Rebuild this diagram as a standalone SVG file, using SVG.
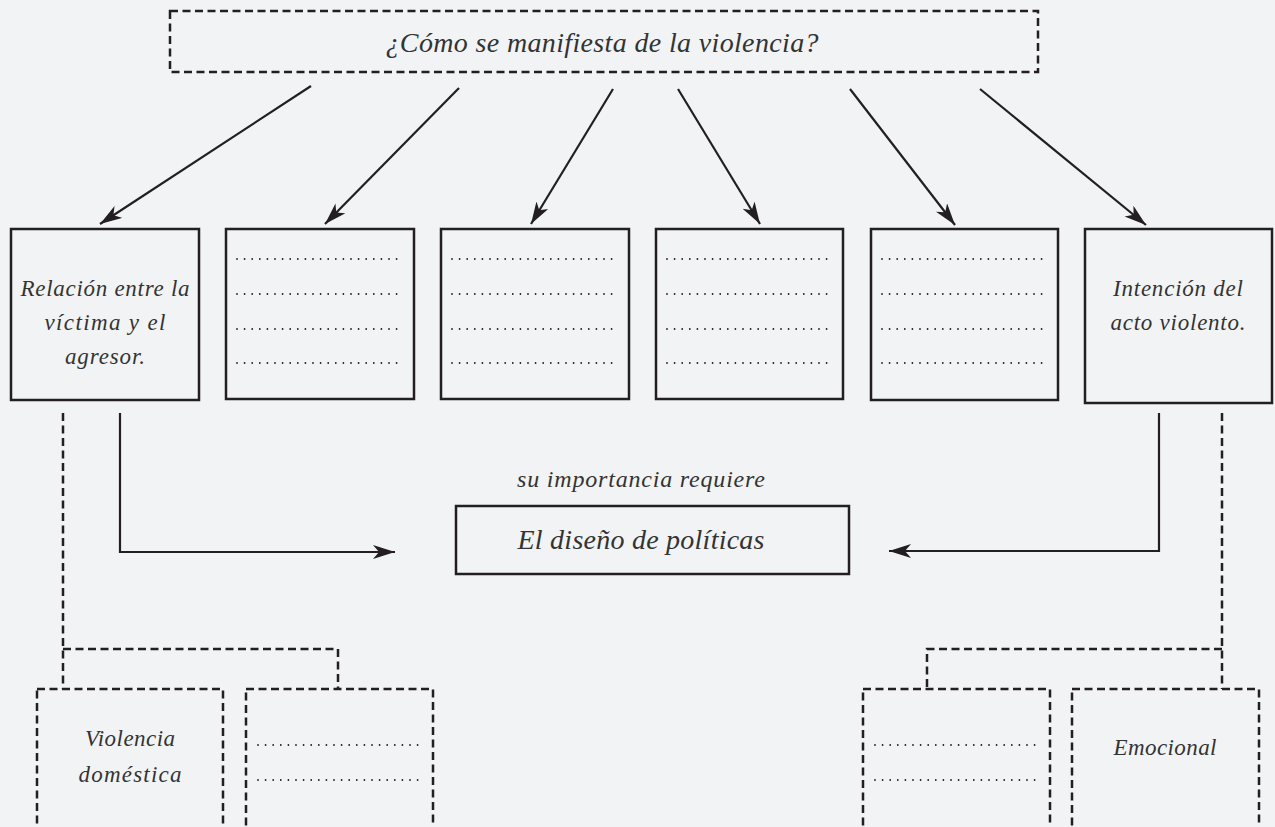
<svg xmlns="http://www.w3.org/2000/svg" width="1275" height="827" viewBox="0 0 1275 827">
<defs>
<marker id="ah" markerUnits="userSpaceOnUse" markerWidth="24" markerHeight="16" refX="22" refY="7" orient="auto">
<path d="M0,0 L22,7 L0,14 L6,7 Z" fill="#231f20"/>
</marker>
<style>
.bg{fill:#f2f3f5}
.box{fill:none;stroke:#231f20;stroke-width:2.5}
.dbox{fill:none;stroke:#231f20;stroke-width:2.5;stroke-dasharray:8 4.5}
.con{fill:none;stroke:#231f20;stroke-width:2.2}
.dcon{fill:none;stroke:#231f20;stroke-width:2.5;stroke-dasharray:8 4.5}
.dots{stroke:#231f20;stroke-width:1.8;stroke-linecap:round;stroke-dasharray:0 7.6}
text{font-family:"Liberation Serif","DejaVu Serif",serif;font-style:italic;fill:#333;text-anchor:middle}
.t23{font-size:23px}
.t28{font-size:28px}
</style>
</defs>
<rect class="bg" x="0" y="0" width="1275" height="827"/>

<g id="question">
<rect class="dbox" x="170" y="11" width="868" height="61"/>
<text class="t28" x="602" y="52" textLength="433" lengthAdjust="spacing">¿Cómo se manifiesta de la violencia?</text>
</g>

<g id="n1">
<rect class="box" x="11" y="229" width="188" height="171"/>
<text class="t23" x="105" y="296" textLength="169" lengthAdjust="spacing">Relación entre la</text>
<text class="t23" x="105" y="330" textLength="121" lengthAdjust="spacing">víctima y el</text>
<text class="t23" x="105" y="364" textLength="80" lengthAdjust="spacing">agresor.</text>
</g>
<g id="n2">
<rect class="box" x="226" y="229" width="188" height="170"/>
<line class="dots" x1="237" y1="259" x2="403" y2="259"/>
<line class="dots" x1="237" y1="294" x2="403" y2="294"/>
<line class="dots" x1="237" y1="329" x2="403" y2="329"/>
<line class="dots" x1="237" y1="363" x2="403" y2="363"/>
</g>
<g id="n3">
<rect class="box" x="441" y="229" width="188" height="170"/>
<line class="dots" x1="452" y1="259" x2="618" y2="259"/>
<line class="dots" x1="452" y1="294" x2="618" y2="294"/>
<line class="dots" x1="452" y1="329" x2="618" y2="329"/>
<line class="dots" x1="452" y1="363" x2="618" y2="363"/>
</g>
<g id="n4">
<rect class="box" x="656" y="229" width="187" height="170"/>
<line class="dots" x1="667" y1="259" x2="833" y2="259"/>
<line class="dots" x1="667" y1="294" x2="833" y2="294"/>
<line class="dots" x1="667" y1="329" x2="833" y2="329"/>
<line class="dots" x1="667" y1="363" x2="833" y2="363"/>
</g>
<g id="n5">
<rect class="box" x="871" y="229" width="187" height="171"/>
<line class="dots" x1="882" y1="259" x2="1048" y2="259"/>
<line class="dots" x1="882" y1="294" x2="1048" y2="294"/>
<line class="dots" x1="882" y1="329" x2="1048" y2="329"/>
<line class="dots" x1="882" y1="363" x2="1048" y2="363"/>
</g>
<g id="n6">
<rect class="box" x="1085" y="229" width="187" height="174"/>
<text class="t23" x="1178" y="296" textLength="130" lengthAdjust="spacing">Intención del</text>
<text class="t23" x="1178" y="330" textLength="135" lengthAdjust="spacing">acto violento.</text>
</g>

<g id="policy">
<text x="641" y="487" style="font-size:24px" textLength="248" lengthAdjust="spacing">su importancia requiere</text>
<rect class="box" x="456" y="506" width="393" height="68"/>
<text class="t28" x="641" y="549" textLength="247" lengthAdjust="spacing">El diseño de políticas</text>
</g>

<g id="b1">
<rect class="dbox" x="37" y="689" width="186" height="200"/>
<text class="t23" x="130" y="746" textLength="90" lengthAdjust="spacing">Violencia</text>
<text class="t23" x="130" y="782" textLength="103" lengthAdjust="spacing">doméstica</text>
</g>
<g id="b2">
<rect class="dbox" x="246" y="689" width="187" height="200"/>
<line class="dots" x1="258" y1="745" x2="421" y2="745"/>
<line class="dots" x1="258" y1="780" x2="421" y2="780"/>
</g>
<g id="b3">
<rect class="dbox" x="863" y="689" width="187" height="200"/>
<line class="dots" x1="875" y1="745" x2="1037" y2="745"/>
<line class="dots" x1="875" y1="780" x2="1037" y2="780"/>
</g>
<g id="b4">
<rect class="dbox" x="1072" y="689" width="187" height="200"/>
<text class="t23" x="1165" y="755" textLength="103" lengthAdjust="spacing">Emocional</text>
</g>

<g id="connectors">
<line class="con" x1="311" y1="86" x2="100" y2="224" marker-end="url(#ah)"/>
<line class="con" x1="459" y1="88" x2="325" y2="224" marker-end="url(#ah)"/>
<line class="con" x1="613" y1="89" x2="531" y2="224" marker-end="url(#ah)"/>
<line class="con" x1="678" y1="89" x2="760" y2="224" marker-end="url(#ah)"/>
<line class="con" x1="850" y1="89" x2="955" y2="225" marker-end="url(#ah)"/>
<line class="con" x1="980" y1="89" x2="1146" y2="225" marker-end="url(#ah)"/>
<path class="con" d="M120,413 V552 H395" marker-end="url(#ah)"/>
<path class="con" d="M1159,413 V551 H889" marker-end="url(#ah)"/>
<path class="dcon" d="M63,413 V689"/>
<path class="dcon" d="M63,649 H338 V689"/>
<path class="dcon" d="M1222,413 V689"/>
<path class="dcon" d="M1222,649 H927 V689"/>
</g>
</svg>
